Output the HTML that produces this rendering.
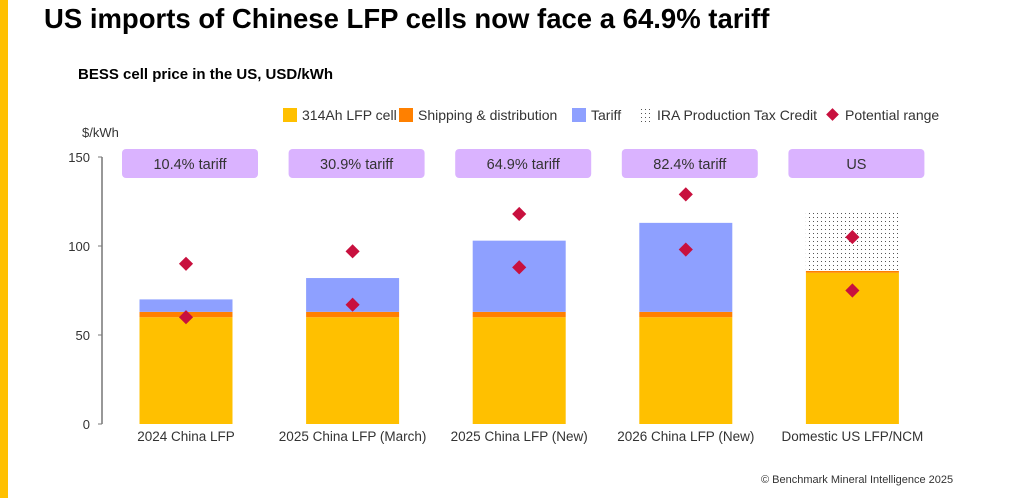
<!DOCTYPE html>
<html><head><meta charset="utf-8"><style>
body{margin:0;width:1024px;height:498px;background:#fff;font-family:"Liberation Sans",sans-serif;overflow:hidden;position:relative}
</style></head><body>
<div style="position:absolute;left:0;top:0;width:8px;height:498px;background:#ffc000"></div>
<div style="position:absolute;left:44px;top:3px;font-size:27.5px;font-weight:bold;color:#000">US imports of Chinese LFP cells now face a 64.9% tariff</div>
<div style="position:absolute;left:78px;top:66px;font-size:15px;font-weight:bold;color:#000">BESS cell price in the US, USD/kWh</div>
<div style="position:absolute;left:761px;top:474px;font-size:11px;color:#333">© Benchmark Mineral Intelligence 2025</div>
<svg id="chart" width="1024" height="498" style="position:absolute;left:0;top:0">
<defs><pattern id="dots" width="4" height="4" patternUnits="userSpaceOnUse"><rect width="4" height="4" fill="#fff"/><rect x="1" y="1" width="1" height="1" fill="#555"/></pattern></defs>
</svg>
<script>
const categories=["2024 China LFP","2025 China LFP (March)","2025 China LFP (New)","2026 China LFP (New)","Domestic US LFP/NCM"];
const boxLabels=["10.4% tariff","30.9% tariff","64.9% tariff","82.4% tariff","US"];
const cellVals=[60,60,60,60,85];
const shipVals=[3,3,3,3,1];
const tariffVals=[7,19,40,50,0];
const iraVals=[0,0,0,0,34];
const rangeHigh=[90,97,118,129,105];
const rangeLow=[60,67,88,98,75];
const yTicks=[0,50,100,150];
const svg=document.getElementById('chart');
const NS='http://www.w3.org/2000/svg';
const y=v=>424-v*(267/150);
const cx=i=>186+i*166.6;
const BW=93;
function mk(t,a,p){const e=document.createElementNS(NS,t);for(const k in a)e.setAttribute(k,a[k]);(p||svg).appendChild(e);return e;}
let ax=mk('line',{x1:102,y1:y(150),x2:102,y2:y(0),stroke:'#777','stroke-width':1.5});


let yt=mk('text',{x:82,y:137,'font-size':13,fill:'#333'});yt.textContent='$/kWh';


yTicks.forEach(v=>{
 let l=mk('line',{x1:98,x2:102,y1:y(v),y2:y(v),stroke:'#777'});
 
 
 let t=mk('text',{x:90,y:y(v)+5,'font-size':13,fill:'#333','text-anchor':'end'});t.textContent=v;
 
 
});
const series=[[cellVals,'#ffc000','cell'],[shipVals,'#ff8000','shipping'],[tariffVals,'#8ea0ff','tariff'],[iraVals,'url(#dots)','ira']];
categories.forEach((c,i)=>{
 let base=0;
 series.forEach(([arr,col,nm])=>{
  const v=arr[i];if(v<=0)return;
  let r=mk('rect',{x:cx(i)-BW/2,y:y(base+v),width:BW,height:y(base)-y(base+v),fill:col});
  
  
  base+=v;
 });
 [rangeHigh[i],rangeLow[i]].forEach(v=>{
  let d=mk('rect',{x:cx(i)-5,y:y(v)-5,width:10,height:10,fill:'#c8103e',transform:`rotate(45 ${cx(i)} ${y(v)})`});
  
  
 });
 let b=mk('rect',{x:cx(i)-64,y:149,width:136,height:29,rx:4,fill:'#dab3ff'});
 
 
 let bt=mk('text',{x:cx(i)+4,y:169,'font-size':14.5,fill:'#333','text-anchor':'middle'});bt.textContent=boxLabels[i];
 
 
 let xl=mk('text',{x:cx(i),y:441,'font-size':13.5,fill:'#333','text-anchor':'middle'});xl.textContent=c;
 
 
});
const leg=[['#ffc000','314Ah LFP cell',283],['#ff8000','Shipping & distribution',399],['#8ea0ff','Tariff',572],['url(#dots)','IRA Production Tax Credit',638]];
leg.forEach(([c,t,x])=>{
 let s=mk('rect',{x:x,y:108,width:14,height:14,fill:c});
 
 
 let tx=mk('text',{x:x+19,y:120,'font-size':14,fill:'#333'});tx.textContent=t;
 
 
});
let ld=mk('rect',{x:828,y:110,width:9,height:9,fill:'#c8103e',transform:'rotate(45 832.5 114.5)'});


let lt=mk('text',{x:845,y:120,'font-size':14,fill:'#333'});lt.textContent='Potential range';


</script>
</body></html>
